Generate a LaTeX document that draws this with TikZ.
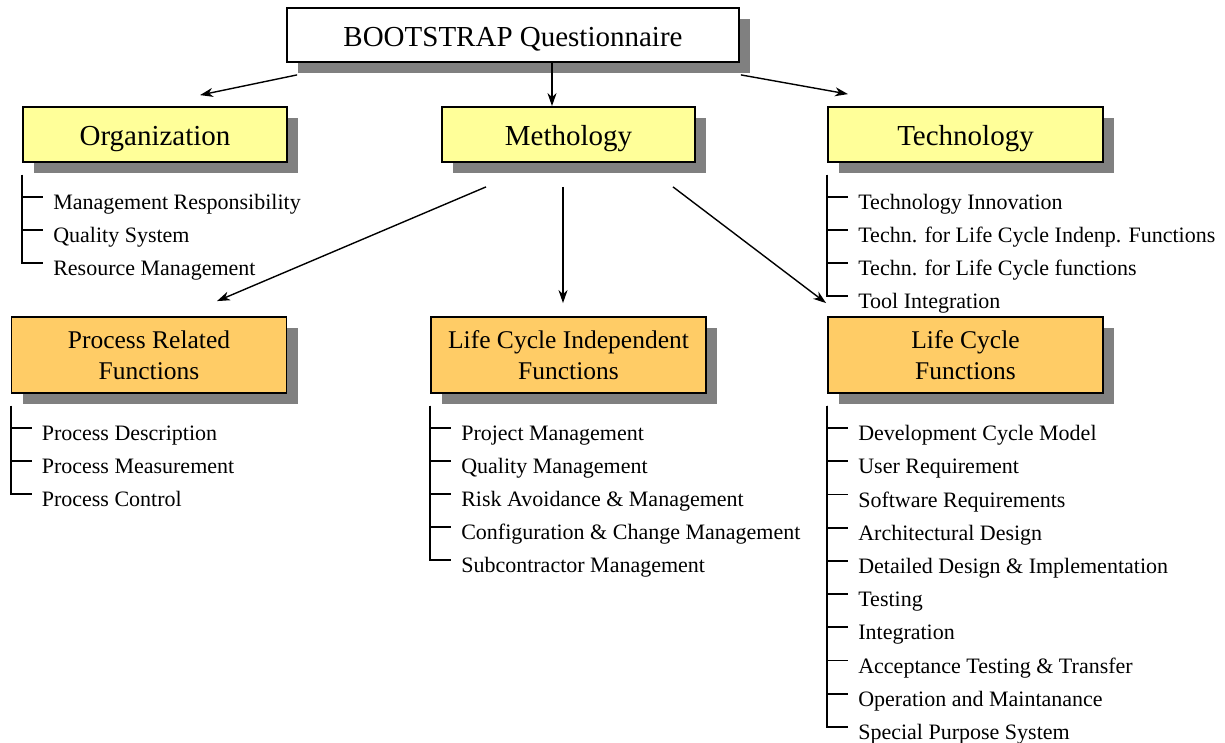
\documentclass[tikz,border=0pt]{standalone}
\usepackage{fontspec}
\setmainfont{Liberation Serif}
\usetikzlibrary{positioning,calc,shadows,arrows.meta}
\definecolor{paleyellow}{HTML}{FFFF99}
\definecolor{paleorange}{HTML}{FFCC66}

\begin{document}
\begin{tikzpicture}[x=1pt,y=-1pt,
    box/.style={draw,line width=1.8pt,inner sep=0pt,align=center,
      font=\fontsize{29}{31}\selectfont,
      drop shadow={shadow xshift=11pt,shadow yshift=-11pt,fill=gray,opacity=1}},
    mainbox/.style={box,fill=white,minimum width=452pt,minimum height=54pt,
      text height=26pt,text depth=3pt},
    groupbox/.style={box,fill=paleyellow,minimum height=55pt,
      text height=26pt,text depth=3pt},
    funcbox/.style={box,fill=paleorange,minimum width=275pt,minimum height=76pt,
      font=\fontsize{25.5}{31}\selectfont},
    item/.style={anchor=base west,inner sep=0pt,font=\fontsize{22}{26}\selectfont},
    tree/.style={line width=1.8pt},
    arr/.style={line width=1.4pt,-{Stealth[length=13pt,width=9pt,inset=4pt]}}]
  \useasboundingbox (0,0) rectangle (1225,743);

  \node[mainbox] (top) at (513,35) {BOOTSTRAP Questionnaire};
  \node[groupbox,minimum width=264pt] (org) at (155,134.5) {Organization};
  \node[groupbox,minimum width=253pt] (meth) at (568.5,134.5) {Methology};
  \node[groupbox,minimum width=275pt] (tech) at (965.5,134.5) {Technology};
  \node[funcbox] (proc) at (149,355) {Process Related\\Functions};
  \node[funcbox] (lci) at (568.5,355) {Life Cycle Independent\\Functions};
  \node[funcbox] (lcf) at (965.5,355) {Life Cycle\\Functions};

  \draw[arr] ($(top.south west)+(11,12)$) -- ($(org.north)+(45,-11)$);
  \draw[arr] ($(top.south)+(39,0)$) -- ($(meth.north)+(-16.5,0)$);
  \draw[arr] ($(top.south east)+(1,12)$) -- ($(tech.north)+(-117.5,-12)$);
  \draw[arr] ($(meth.south)+(-82.5,24)$) -- ($(proc.north)+(68,-15)$);
  \draw[arr] ($(meth.south)+(-5.5,24)$) -- ($(lci.north)+(-5.5,-13)$);
  \draw[arr] ($(meth.south)+(104.5,24)$) -- ($(lcf.north west)+(-1,-13)$);

  % item lists
  \foreach \t [count=\i] in {Management Responsibility,Quality System,Resource Management}{
    \node[item] (org-\i) at ($(org.south west)+(31,13.5+33*\i)$) {\t};
    \draw[tree] ([yshift=-12pt]org.south west) |- ($(org-\i.base west)+(-10,-12.5)$);
  }
  \foreach \t [count=\i] in {Technology Innovation,Techn. for Life Cycle Indenp. Functions,
      Techn. for Life Cycle functions,Tool Integration}{
    \node[item] (tech-\i) at ($(tech.south west)+(31,13.5+33*\i)$) {\t};
    \draw[tree] ([yshift=-12pt]tech.south west) |- ($(tech-\i.base west)+(-10,-12.5)$);
  }
  \foreach \t [count=\i] in {Process Description,Process Measurement,Process Control}{
    \node[item] (proc-\i) at ($(proc.south west)+(31,13.5+33*\i)$) {\t};
    \draw[tree] ([yshift=-12pt]proc.south west) |- ($(proc-\i.base west)+(-10,-12.5)$);
  }
  \foreach \t [count=\i] in {Project Management,Quality Management,Risk Avoidance \& Management,
      Configuration \& Change Management,Subcontractor Management}{
    \node[item] (lci-\i) at ($(lci.south west)+(31,13.5+33*\i)$) {\t};
    \draw[tree] ([yshift=-12pt]lci.south west) |- ($(lci-\i.base west)+(-10,-12.5)$);
  }
  \foreach \t [count=\i] in {Development Cycle Model,User Requirement,Software Requirements,
      Architectural Design,Detailed Design \& Implementation,Testing,Integration,
      Acceptance Testing \& Transfer,Operation and Maintanance,Special Purpose System}{
    \node[item] (lcf-\i) at ($(lcf.south west)+(31,13.5+33.2*\i)$) {\t};
    \draw[tree] ([yshift=-12pt]lcf.south west) |- ($(lcf-\i.base west)+(-10,-12.5)$);
  }
\end{tikzpicture}
\end{document}
